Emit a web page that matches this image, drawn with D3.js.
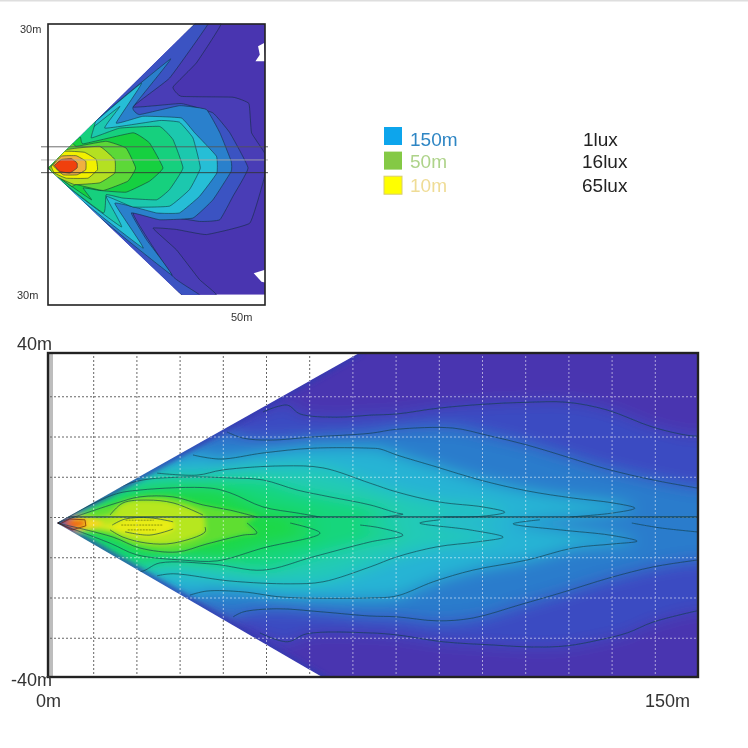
<!DOCTYPE html>
<html>
<head>
<meta charset="utf-8">
<script src="https://cdn.jsdelivr.net/npm/d3@7"></script>
<style>
  html, body { margin: 0; padding: 0; background: #fff; }
  svg { display: block; font-family: "Liberation Sans", Arial, sans-serif; }
  .grid path { display: none; }
  .grid text { display: none; }
</style>
</head>
<body>
<div id="chart"></div>
<script>
// small plot, isolux bands in metres, apex is [0,0]
const smallWedge = [[0,0],[33.8,34],[50,34],[50,-29.9],[30.7,-29.9]];
const smallBand0 = [[0,0],[33.8,34],[39.9,34],[34.2,24.8],[28.8,19.1],[30.7,16.9],[42.6,16.7],[46.3,15.2],[46.9,8.3],[49.9,3.5],[49.9,-2],[46.5,-13],[36.5,-15.7],[29.6,-14.5],[24.2,-14.2],[29.6,-19.3],[34.9,-26.3],[38.8,-29.9],[30.7,-29.9]];
const smallBand1 = [[0,0],[33.8,34],[36.9,34],[28,21.2],[19.6,14.4],[30.7,15.2],[38,13],[41.9,8.3],[46.1,0],[42.6,-6.7],[39.6,-12.2],[34.9,-12.6],[19.6,-10.6],[28.8,-25.6],[34.9,-29.9],[30.7,-29.9]];
const smallBand2 = [[0,0],[28.2,25.7],[19.6,14.4],[21.1,12.6],[30.3,14.7],[36.5,13.8],[39.6,8.3],[42.2,1.6],[42.2,-0.8],[38,-7.5],[33.4,-11.8],[25.7,-12.2],[19.2,-10.6],[22.7,-16.9],[28.4,-25.2]];
const smallBand3 = [[0,0],[21.5,20],[15.7,10.6],[21.9,12.2],[30.7,11.8],[33.8,8.3],[38.8,2.8],[38.9,-1.2],[34.9,-6.7],[30.3,-10.6],[25,-10.6],[15.4,-8.3],[21.9,-18.9]];
const smallBand4 = [[0,0],[16.5,14.5],[13.1,9.4],[25.7,11.2],[30.3,10.8],[33.4,7.1],[35.1,0],[32.6,-5.1],[28,-9],[19.6,-9.2],[13.4,-6.7],[16.9,-13.9]];
const smallBand5 = [[0,0],[10.8,11],[10,7.1],[16.5,9.4],[25.7,9.8],[28.8,6.7],[31.1,0],[28,-5.1],[25,-7.5],[17.3,-7.1],[13.4,-6.3],[12.7,-10.6]];
const smallBand6 = [[0,0],[7.3,7.3],[8.1,5.7],[19.6,8.3],[23.4,5.9],[26.5,0],[23.4,-3.1],[18,-5.7],[11.9,-5.3],[8.1,-4.7],[10,-7.5]];
const smallBand7 = [[0,0],[5.4,5.9],[6.5,5.1],[13.4,6.3],[18,4.7],[20.2,0],[18.4,-3.1],[12.7,-5.3],[6.5,-3.9],[5.4,-4.3]];
const smallBand8 = [[0.4,0],[4.2,4.3],[11.9,5.1],[15.4,2],[15.4,-1.2],[11.9,-3.5],[6.1,-3.9],[1.9,-2]];
const smallBand9 = [[0.8,0.4],[3.8,3.9],[8.4,3.7],[11.1,2],[11.4,-0.4],[9.2,-2.4],[4.2,-2.4],[1.5,-1.2]];
const smallBand10 = [[1.2,0.6],[3.1,2.8],[6.5,2.9],[8.7,1.6],[8.7,-0.4],[6.7,-1.6],[3.5,-1.6]];
const smallBand11 = [[1.5,0.6],[3.1,2],[5.4,2.2],[6.7,1.2],[6.7,0],[5,-1.2],[2.7,-0.8]];
const smallBands = [smallBand0, smallBand1, smallBand2, smallBand3, smallBand4, smallBand5, smallBand6, smallBand7, smallBand8, smallBand9, smallBand10, smallBand11];
const smallColors = ["#4a3cb6", "#3b52c2", "#2c80cc", "#28bed6", "#1cc8ae", "#18d07e", "#18d040", "#5cd838", "#b4e020", "#f2f000", "#f0b040", "#f04010"];
const smallNotches = [[[48.4,28.7],[49.8,29.5],[50,25.2],[47.8,25.2],[48.8,26.7]], [[47.4,-24.8],[50,-24],[50,-27],[49.2,-26.8]]];
const smallRules = [5, 1.9, -1.1];

// large plot contours, metres
const apex = [1.6, -1.5];
const bigWedge = [apex, [72,41], [152,41], [152,-41], [65,-41]];
const bigEdge = [[72,41], apex, [65,-41]];
const lineAUpper = [[49.3,26.1],[54.9,27.8],[57.9,25.6],[66.4,24.8],[74.1,25.3],[80.3,25.6],[89.6,27],[100.2,28],[110.4,28.5],[119.7,28.5],[128.9,26.6],[139.6,22.3],[147.5,20.3],[149.8,20.1]];
const lineALower = [[48.6,-28.8],[54.9,-31],[59.5,-29],[74.1,-28.8],[80.3,-29.3],[91,-31],[102.5,-31.8],[111.8,-32.3],[119.7,-32],[127.3,-30.5],[133.6,-28.8],[139.6,-26.1],[149.8,-23.3]];
const lineBUpper = [[41,21.1],[44.7,19.6],[50.9,19.1],[60.9,19.9],[74.1,20.8],[80.3,21.8],[93.3,22.1],[101.2,20.3],[110.4,17.9],[119.7,14.9],[128.9,11.9],[139.6,9.2],[149.8,7.2]];
const lineBLower = [[42.4,-24.8],[44.7,-23.6],[52.5,-22.8],[63.2,-23.6],[74.1,-24.6],[80.3,-24.8],[89.6,-25.8],[97.9,-25.1],[108.8,-21.8],[118.1,-18.9],[129.6,-15.1],[139.6,-12.4],[149.8,-10.7]];
const lineCUpper = [[33.1,15.4],[39.4,14.4],[49.3,15.9],[60.9,17.1],[74.1,17.1],[76.4,16.9],[80.3,15.4],[89.6,12.4],[99.5,9.2],[110.4,6.5],[121.1,4.7],[130.3,3.5],[135.4,2.2],[130.3,1],[120.4,0]];
const lineCLower = [[32.4,-19.4],[36.3,-18.4],[44.7,-18.6],[53.9,-19.9],[74.1,-20.1],[80.3,-19.6],[88.7,-16.1],[97.9,-13.2],[110.4,-10.7],[121.1,-7.7],[130.3,-6.7],[135.9,-6],[129.6,-4.5],[118.1,-3.2],[107.2,-1.7],[113.4,-0.7]];
const lineDUpper = [[24.8,10.9],[34,10.4],[40,11.7],[53.9,12.7],[63.2,12.2],[74.1,8.4],[80.3,6.2],[90.3,3.7],[100.2,2.5],[105.3,1.2],[100.2,0.2],[91,0]];
const lineDLower = [[24.8,-14.6],[28.5,-14.1],[41.7,-15.9],[55.6,-16.6],[63.2,-16.1],[74.1,-12.4],[80.3,-9.9],[89.6,-7.4],[98.8,-6.2],[104.9,-5],[97.2,-3.2],[85.6,-1.5],[90.3,-0.7]];
const lineEUpper = [[18.5,8.4],[30.1,9.9],[41.7,9.7],[49.3,9.2],[57.2,6.7],[64.8,5],[74.1,3],[80.3,1],[81.7,0.7],[77.1,0]];
const lineELower = [[20.1,-13.6],[25.5,-11.4],[37.7,-11.7],[49.3,-13.2],[60.9,-9.9],[74.1,-6.2],[81.7,-4.5],[76.4,-2.7],[71.8,-2]];
const lineFUpper = [[14.6,5.5],[20.8,6.7],[37,7.2],[41.7,6],[49.3,2.5],[57.2,1],[62.5,0]];
const lineFLower = [[13.9,-6.5],[20.1,-9.4],[30.8,-10.7],[38.7,-10.9],[49.3,-7.7],[62.5,-4],[55.6,-1.5]];
const lineGUpper = [[15.5,3.5],[20.8,5],[28.5,5],[35.4,3],[41.7,1.7],[47.9,0]];
const lineGLower = [[14.6,-5],[20.8,-7.7],[29.4,-8.7],[36.3,-6.7],[44.7,-4.5],[47.9,-4],[45.6,-1.5]];
const lineHUpper = [[13.9,0.5],[16.9,3.5],[22.5,4.2],[28.5,3.5],[35.4,0.5]];
const lineHLower = [[13.9,-3.2],[16.9,-5],[22.5,-6.5],[28.5,-6.5],[35.9,-3.7],[35.9,-2.5]];
const lineIUpper = [[14.4,-2],[17.4,-0.5],[23.1,-0.2],[28.5,-1.2]];
const lineILower = [[17.4,-3.7],[23.1,-4.5],[28.5,-3]];
const hotHalo = [[2,-1.5],[6,0.2],[10,-0.2],[12.5,-1.5],[10,-3],[6,-3.8]];
const hotSpot = [[2.3,-1.7],[4.6,-0.5],[8.1,-0.7],[8.3,-2.2],[5.1,-3.2]];
const bulbHatch = [[[17.5,-0.8],[24,-0.8]], [[16.5,-2],[26,-2]], [[18,-3.2],[24.5,-3.2]]];
const tailLine = [[134.7,-1.5],[141.2,-2.7],[149.8,-3.7]];
const bigPairs = [[lineAUpper,lineALower],[lineBUpper,lineBLower],[lineCUpper,lineCLower],[lineDUpper,lineDLower],[lineEUpper,lineELower],[lineFUpper,lineFLower],[lineGUpper,lineGLower],[lineHUpper,lineHLower],[lineIUpper,lineILower]];
const bigColors = ["#3a4cc2", "#2a7ccc", "#28b4d4", "#20cab6", "#14d67c", "#1cd84a", "#70e02c", "#cce81c", "#f6ee10"];
const bigGridX = [10,20,30,40,50,60,70,80,90,100,110,120,130,140];
const bigGridY = [-30,-20,-10,0,10,20,30];

// legend
const legendRanges = ["150m", "50m", "10m"];
const legendLux = ["1lux", "16lux", "65lux"];
const legendSwatches = ["#0aa5ec", "#84c944", "#ffff00"];
const legendText = ["#2f86c4", "#aed38a", "#efdc96"];

const W = 748, H = 748;
const svg = d3.select("#chart").append("svg").attr("width", W).attr("height", H);
const defs = svg.append("defs");
defs.append("filter").attr("id", "soft").attr("x", "-5%").attr("y", "-5%").attr("width", "110%").attr("height", "110%")
  .append("feGaussianBlur").attr("stdDeviation", 0.5);
defs.append("filter").attr("id", "wide").attr("filterUnits", "userSpaceOnUse").attr("x", 0).attr("y", 300).attr("width", 748).attr("height", 440)
  .append("feGaussianBlur").attr("stdDeviation", 8);
defs.append("filter").attr("id", "narrow").attr("filterUnits", "userSpaceOnUse").attr("x", 0).attr("y", 300).attr("width", 748).attr("height", 440)
  .append("feGaussianBlur").attr("stdDeviation", 2.5);
defs.append("filter").attr("id", "tiny").attr("filterUnits", "userSpaceOnUse").attr("x", 0).attr("y", 0).attr("width", 748).attr("height", 748)
  .append("feGaussianBlur").attr("stdDeviation", 0.4);

svg.append("rect").attr("width", W).attr("height", 1.5).attr("fill", "#dedede");

// ---- small plot ----
const sx = d3.scaleLinear().domain([0, 50]).range([48, 265]);
const sy = d3.scaleLinear().domain([-30, 30]).range([295.2, 40.8]);
const sPath = d3.line().x((d) => sx(d[0])).y((d) => sy(d[1])).curve(d3.curveLinearClosed);
const sSmooth = d3.line().x((d) => sx(d[0])).y((d) => sy(d[1])).curve(d3.curveCardinalClosed.tension(0.7));

defs.append("clipPath").attr("id", "small-clip").append("path").attr("d", sPath(smallWedge));

const small = svg.append("g").attr("filter", "url(#soft)");
const smallFill = small.append("g").attr("clip-path", "url(#small-clip)");
smallFill.append("path").attr("d", sPath(smallWedge)).attr("fill", "#4a35b0");
smallFill.selectAll(".band").data(smallBands).join("path")
  .attr("class", "band")
  .attr("d", sSmooth)
  .attr("fill", (d, i) => smallColors[i])
  .attr("stroke", "#0f2f3a")
  .attr("stroke-opacity", 0.7)
  .attr("stroke-width", 0.8);
small.selectAll(".notch").data(smallNotches).join("path")
  .attr("class", "notch").attr("d", sPath).attr("fill", "#fff");
small.selectAll(".rule").data(smallRules).join("line")
  .attr("class", "rule")
  .attr("x1", 41).attr("x2", 268)
  .attr("y1", (d) => sy(d)).attr("y2", (d) => sy(d))
  .attr("stroke", (d, i) => (i === 1 ? "#aaa" : i === 0 ? "#555" : "#333"))
  .attr("stroke-opacity", 0.85)
  .attr("stroke-width", 1);
small.append("rect").attr("x", 48).attr("y", 24).attr("width", 217).attr("height", 281)
  .attr("fill", "none").attr("stroke", "#222").attr("stroke-width", 1.6);

const labels = svg.append("g").attr("filter", "url(#tiny)");
const smallText = [["30m", 20, 32.5], ["30m", 17, 299], ["50m", 231, 321]];
labels.selectAll(".small-label").data(smallText).join("text")
  .attr("class", "small-label")
  .attr("x", (d) => d[1]).attr("y", (d) => d[2])
  .attr("font-size", 11).attr("fill", "#333")
  .text((d) => d[0]);

// ---- legend ----
const legendRows = [146, 168, 192];
const legend = labels.append("g");
legend.selectAll("rect").data(legendRanges).join("rect")
  .attr("x", 384).attr("y", (d, i) => 127 + i * 24.6)
  .attr("width", 18).attr("height", 18)
  .attr("fill", (d, i) => legendSwatches[i])
  .attr("stroke", (d, i) => (i === 2 ? "#d8cc70" : "none"));
legend.selectAll(".range").data(legendRanges).join("text")
  .attr("class", "range")
  .attr("x", 410).attr("y", (d, i) => legendRows[i])
  .attr("font-size", 19)
  .attr("fill", (d, i) => legendText[i])
  .text((d) => d);
legend.selectAll(".lux").data(legendLux).join("text")
  .attr("class", "lux")
  .attr("x", (d, i) => (i === 0 ? 583 : 582)).attr("y", (d, i) => legendRows[i])
  .attr("font-size", 19)
  .attr("fill", "#222")
  .text((d) => d);

// ---- large plot ----
const bx = d3.scaleLinear().domain([0, 150]).range([50, 698]);
const by = d3.scaleLinear().domain([-40, 40]).range([678, 356]);
const wedgePath = d3.line().x((d) => bx(d[0])).y((d) => by(d[1])).curve(d3.curveLinearClosed);
const openPath = d3.line().x((d) => bx(d[0])).y((d) => by(d[1]));
const ringPath = d3.line().x((d) => bx(d[0])).y((d) => by(d[1])).curve(d3.curveCatmullRomClosed.alpha(0.5));
const contourPath = d3.line().x((d) => bx(d[0])).y((d) => by(d[1])).curve(d3.curveCatmullRom.alpha(0.5));

// contours that run off the right side get pushed out so the blur does not fade there
function ring(pair) {
  const up = pair[0], low = pair[1];
  const tailUp = up[up.length - 1], tailLow = low[low.length - 1];
  const u = tailUp[0] > 149 ? up.concat([[170, tailUp[1]]]) : up;
  const l = tailLow[0] > 149 ? low.concat([[170, tailLow[1]]]) : low;
  return [apex].concat(u, l.slice().reverse());
}

defs.append("clipPath").attr("id", "big-clip").append("path").attr("d", wedgePath(bigWedge));
defs.append("clipPath").attr("id", "big-frame").append("rect").attr("x", 50).attr("y", 353).attr("width", 648).attr("height", 324);

svg.append("rect").attr("x", 48).attr("y", 353).attr("width", 5).attr("height", 324).attr("fill", "#bdbdbd");

function gridLayer(color, cls) {
  const g = svg.append("g").attr("class", cls).attr("filter", "url(#tiny)");
  g.append("g").attr("class", "grid").attr("transform", "translate(0,678)")
    .call(d3.axisBottom(bx).tickValues(bigGridX).tickSize(-322).tickFormat(""))
    .selectAll("line").attr("stroke", color).attr("stroke-dasharray", "2,2").attr("stroke-width", 1);
  g.append("g").attr("class", "grid").attr("transform", "translate(50,0)")
    .call(d3.axisLeft(by).tickValues(bigGridY).tickSize(-648).tickFormat(""))
    .selectAll("line").attr("stroke", color).attr("stroke-dasharray", "2,2").attr("stroke-width", 1);
  return g;
}
gridLayer("#666", "grid-dark");

const big = svg.append("g").attr("clip-path", "url(#big-frame)");
const bigInner = big.append("g").attr("clip-path", "url(#big-clip)");
const wideBlur = bigInner.append("g").attr("filter", "url(#wide)");
wideBlur.append("rect").attr("x", 0).attr("y", 300).attr("width", 748).attr("height", 440).attr("fill", "#4a35b0");
wideBlur.selectAll("path").data(bigPairs.slice(0, 6)).join("path")
  .attr("d", (d) => ringPath(ring(d)))
  .attr("fill", (d, i) => bigColors[i]);
const narrowBlur = bigInner.append("g").attr("filter", "url(#narrow)");
narrowBlur.selectAll(".inner").data(bigPairs.slice(6)).join("path")
  .attr("class", "inner")
  .attr("d", (d) => ringPath(ring(d)))
  .attr("fill", (d, i) => bigColors[i + 6])
  .attr("fill-opacity", 0.8);
narrowBlur.append("path").attr("d", wedgePath(hotHalo)).attr("fill", "#f4d820");
narrowBlur.append("path").attr("d", wedgePath(hotSpot)).attr("fill", "#ee6a14");
// dark rim along the beam edge
narrowBlur.append("path").attr("d", openPath(bigEdge))
  .attr("fill", "none").attr("stroke", "#2f3cb0").attr("stroke-width", 6).attr("stroke-opacity", 0.8);

const whiteGrid = gridLayer("#fff", "grid-white").attr("opacity", 0.55);
whiteGrid.attr("clip-path", "url(#big-clip)");

const lineClip = svg.append("g").attr("clip-path", "url(#big-clip)");
const lines = lineClip.append("g").attr("clip-path", "url(#big-frame)").attr("filter", "url(#soft)")
  .attr("fill", "none").attr("stroke", "#123f4c").attr("stroke-opacity", 0.65).attr("stroke-width", 1);
bigPairs.forEach((pair, i) => {
  const lead = i >= 4 && i < 7 ? [apex] : [];
  lines.append("path").attr("d", contourPath(lead.concat(pair[0])));
  lines.append("path").attr("d", contourPath(lead.concat(pair[1])));
});
lines.append("path").attr("d", contourPath(tailLine));
lines.selectAll(".hatch").data(bulbHatch).join("path")
  .attr("class", "hatch").attr("d", openPath).attr("stroke", "#5a6a10").attr("stroke-dasharray", "2,1");
lines.append("path").attr("d", wedgePath(hotSpot)).attr("stroke", "#6b1a08");
lines.append("line")
  .attr("x1", bx(apex[0])).attr("x2", bx(150)).attr("y1", by(0)).attr("y2", by(0))
  .attr("stroke-width", 1.5).attr("stroke-opacity", 0.85);
lines.append("circle").attr("cx", bx(apex[0])).attr("cy", by(apex[1])).attr("r", 2.5)
  .attr("fill", "#201008").attr("stroke", "none");

svg.append("rect").attr("x", 48).attr("y", 353).attr("width", 650).attr("height", 324)
  .attr("fill", "none").attr("stroke", "#222").attr("stroke-width", 2.4).attr("filter", "url(#soft)");

const axisText = [["40m", 17, 350], ["-40m", 11, 686], ["0m", 36, 707], ["150m", 645, 707]];
labels.selectAll(".big-label").data(axisText).join("text")
  .attr("class", "big-label")
  .attr("x", (d) => d[1]).attr("y", (d) => d[2])
  .attr("font-size", 18).attr("fill", "#333")
  .text((d) => d[0]);
labels.raise();
</script>
</body>
</html>
